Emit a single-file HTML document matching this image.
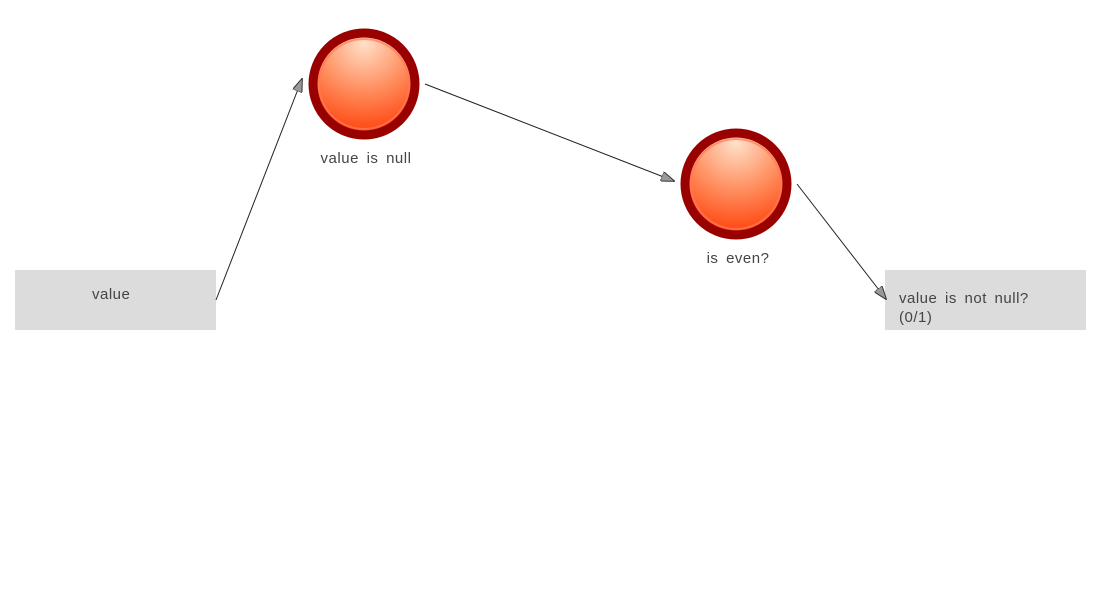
<!DOCTYPE html>
<html><head><meta charset="utf-8"><style>
body{margin:0;background:#fff;width:1100px;height:600px;overflow:hidden}
</style></head><body>
<svg width="1100" height="600" xmlns="http://www.w3.org/2000/svg" font-family="Liberation Sans, sans-serif" font-size="15" fill="#444" letter-spacing="0.5" word-spacing="3">
<defs>
<radialGradient id="g" cx="50%" cy="10%" r="95%">
<stop offset="0" stop-color="#ffe0c8"/><stop offset="0.5" stop-color="#ff8c5c"/><stop offset="1" stop-color="#ff3800"/>
</radialGradient>
<marker id="a" markerWidth="14" markerHeight="10" refX="13" refY="5" orient="auto" markerUnits="userSpaceOnUse">
<path d="M0,0 L14,5 L0,10 Z" fill="#999" stroke="#333" stroke-width="1"/>
</marker>
</defs>
<rect x="15" y="270" width="201" height="60" fill="#dcdcdc"/>
<text x="92" y="299">value</text>
<rect x="885" y="270" width="201" height="60" fill="#dcdcdc"/>
<text x="899" y="303">value is not null?</text>
<text x="899" y="322">(0/1)</text>
<line x1="216" y1="300" x2="302" y2="79" stroke="#222" stroke-width="1" marker-end="url(#a)"/>
<line x1="425" y1="84" x2="674" y2="181" stroke="#222" stroke-width="1" marker-end="url(#a)"/>
<line x1="797" y1="184" x2="886" y2="299" stroke="#222" stroke-width="1" marker-end="url(#a)"/>
<circle cx="364" cy="84" r="51" fill="url(#g)" stroke="#990000" stroke-width="9"/>
<circle cx="364" cy="84" r="45" fill="none" stroke="#ff7a5a" stroke-width="2" opacity="0.7"/>
<text x="366" y="163" text-anchor="middle">value is null</text>
<circle cx="736" cy="184" r="51" fill="url(#g)" stroke="#990000" stroke-width="9"/>
<circle cx="736" cy="184" r="45" fill="none" stroke="#ff7a5a" stroke-width="2" opacity="0.7"/>
<text x="738" y="263" text-anchor="middle">is even?</text>
</svg>
</body></html>
